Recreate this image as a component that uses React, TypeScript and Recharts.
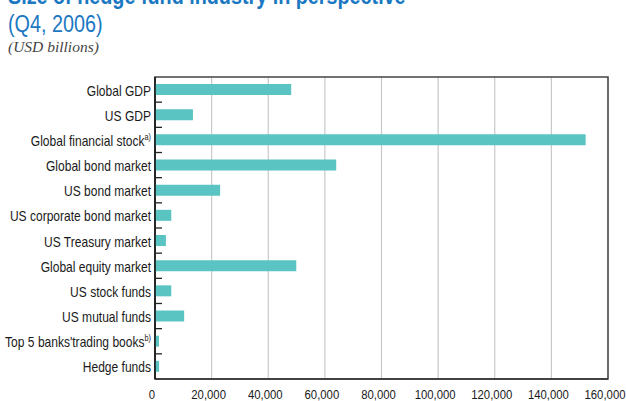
import { BarChart, Bar, XAxis, YAxis, CartesianGrid, ReferenceArea } from 'recharts'

// Size of hedge fund industry in perspective, Q4 2006, USD billions
const categories = [
  'Global GDP',
  'US GDP',
  'Global financial stock',
  'Global bond market',
  'US bond market',
  'US corporate bond market',
  'US Treasury market',
  'Global equity market',
  'US stock funds',
  'US mutual funds',
  "Top 5 banks'trading books",
  'Hedge funds',
]
const notes = ['', '', 'a)', '', '', '', '', '', '', '', 'b)', '']
const values = [48100, 13400, 152100, 64000, 23000, 5750, 3850, 49900, 5750, 10300, 1400, 1450]
const xTicks = [0, 20000, 40000, 60000, 80000, 100000, 120000, 140000, 160000]

const rows = categories.map((name, i) => ({ name, note: notes[i], value: values[i] }))

const FONT = '"Liberation Sans", Arial, Helvetica, sans-serif'
const SQUEEZE = 0.86
const LABEL_GAP = 4

function CatTick({ x, y, payload, index }: any) {
  const note = notes[categories.indexOf(payload.value)]
  const half = payload.offset ?? 0
  const axisX = x + LABEL_GAP
  const last = index === categories.length - 1
  return (
    <g>
      {!last && half > 0 ? (
        <line x1={axisX} x2={axisX + 7} y1={y + half} y2={y + half} stroke="#222" strokeWidth={1.3} />
      ) : null}
      <g transform={`translate(${x},${y}) scale(${SQUEEZE},1)`}>
        <text x={0} y={6} textAnchor="end" fontFamily={FONT} fontSize={14} fill="#1a1a1a">
          {payload.value}
          {note ? (
            <tspan dy={-6} fontSize={8.5}>
              {note}
            </tspan>
          ) : null}
        </text>
      </g>
    </g>
  )
}

function NumTick({ x, y, payload }: any) {
  return (
    <g transform={`translate(${x - 3},${y}) scale(${SQUEEZE},1)`}>
      <text x={0} y={12} textAnchor="middle" fontFamily={FONT} fontSize={13.2} fill="#1a1a1a">
        {payload.value.toLocaleString('en-US')}
      </text>
    </g>
  )
}

export default function App() {
  return (
    <div style={{ position: 'absolute', left: 0, top: 0, width: 626, height: 401, background: '#fff', overflow: 'hidden' }}>
      <svg width={626} height={60} style={{ position: 'absolute', left: 0, top: 0 }}>
        <g transform={`translate(8,4) scale(${SQUEEZE},1)`}>
          <text x={0} y={0} fontFamily={FONT} fontWeight="bold" fontSize={23} fill="#1a78c2">
            Size of hedge fund industry in perspective
          </text>
        </g>
        <g transform={`translate(8,32) scale(${SQUEEZE},1)`}>
          <text x={0} y={0} fontFamily={FONT} fontSize={23} fill="#1a78c2">
            (Q4, 2006)
          </text>
        </g>
        <text x={8} y={52} fontFamily='"Liberation Serif", "Times New Roman", serif' fontStyle="italic" fontSize={15.5} fill="#444">
          (USD billions)
        </text>
      </svg>
      <div style={{ position: 'absolute', left: 0, top: 0 }}>
        <BarChart
          width={626}
          height={401}
          data={rows}
          layout="vertical"
          margin={{ top: 77, right: 18, bottom: 0, left: 0 }}
          barSize={11}
        >
          <CartesianGrid horizontal={false} vertical stroke="#c8c8c8" strokeWidth={1.2} />
          <XAxis
            type="number"
            domain={[0, 160000]}
            ticks={xTicks}
            height={22}
            tickLine={false}
            tickSize={6}
            tickMargin={2}
            axisLine={{ stroke: '#333', strokeWidth: 1.5 }}
            tick={<NumTick />}
            interval={0}
          />
          <YAxis
            type="category"
            dataKey="name"
            width={155}
            tickLine={false}
            tickSize={0}
            tickMargin={LABEL_GAP}
            axisLine={{ stroke: '#111', strokeWidth: 1.5 }}
            tick={<CatTick />}
            interval={0}
          />
          <ReferenceArea x1={0} x2={160000} fill="none" stroke="#444" strokeWidth={1.5} />
          <Bar dataKey="value" fill="#5ac4c2" isAnimationActive={false} />
        </BarChart>
      </div>
    </div>
  )
}
